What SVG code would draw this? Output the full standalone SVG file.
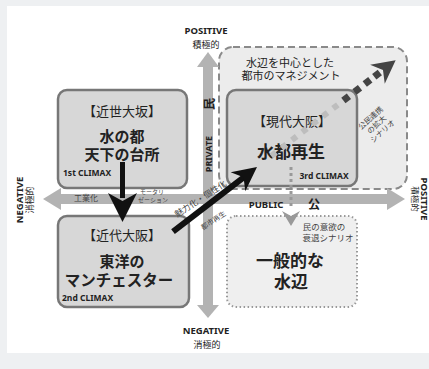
<svg xmlns="http://www.w3.org/2000/svg" width="429" height="369" viewBox="0 0 429 369">
<style>
text{font-family:"Noto Sans CJK JP","Noto Sans",sans-serif;fill:#222;text-anchor:middle;dominant-baseline:central}
.en{font-family:"Noto Sans","Open Sans",sans-serif;font-weight:bold}
.b{font-weight:bold}
.box{fill:#d7d7d7;stroke:#777;stroke-width:2.5}
.axis{fill:#b3b3b3}
.sm{fill:#444}
</style>
<rect x="0" y="0" width="429" height="369" fill="#eef0f2"/>
<rect x="7" y="6" width="422" height="347" fill="#ffffff"/>

<g id="outer-management">
<rect x="219" y="47" width="188" height="142" rx="14" fill="#ececec" stroke="#8a8a8a" stroke-width="2" stroke-dasharray="7 4"/>
<text x="290" y="62" font-size="11">水辺を中心とした</text>
<text x="291" y="75" font-size="11">都市のマネジメント</text>
</g>

<g id="box-general">
<rect x="227" y="216" width="130" height="91" rx="9" fill="#efefef" stroke="#999" stroke-width="2" stroke-dasharray="1.5 2.5"/>
<text x="324" y="226" font-size="8.5" class="sm">民の意欲の</text>
<text x="328" y="237" font-size="8.5" class="sm">衰退シナリオ</text>
<text x="290" y="259" font-size="17" class="b">一般的な</text>
<text x="291" y="280" font-size="17" class="b">水辺</text>
</g>

<g id="axes">
<rect x="203" y="66" width="10" height="240" class="axis"/>
<polygon points="197,67 208,52 219,67" class="axis"/>
<polygon points="197,305 208,318 219,305" class="axis"/>
<rect x="60" y="194" width="328" height="10" class="axis"/>
<polygon points="61,188 43,199 61,210" class="axis"/>
<polygon points="387,188 405,199 387,210" class="axis"/>
<text class="b" x="208" y="104" font-size="12" transform="rotate(-90 208 104)">民</text>
<text class="en" x="208" y="154" font-size="9" transform="rotate(-90 208 154)">PRIVATE</text>
<text class="en" x="266" y="204" font-size="9.5" fill="#333">PUBLIC</text>
<text class="b" x="314" y="203" font-size="12">公</text>
<text x="86" y="197" font-size="8" class="sm">工業化</text>
<text x="152" y="191" font-size="6" class="sm">モータリ</text>
<text x="153" y="199" font-size="6" class="sm">ゼーション</text>
<text class="en" x="206" y="30" font-size="9.5">POSITIVE</text>
<text x="206" y="44" font-size="9">積極的</text>
<text class="en" x="206" y="330" font-size="9.5">NEGATIVE</text>
<text x="207" y="344" font-size="9">消極的</text>
<g transform="translate(19 200) rotate(-90)">
<text class="en" x="0" y="0" font-size="9.5">NEGATIVE</text>
<text x="0" y="10" font-size="9">消極的</text>
</g>
<g transform="translate(424 199) rotate(90)">
<text class="en" x="0" y="0" font-size="9.5">POSITIVE</text>
<text x="0" y="8" font-size="8.5">積極的</text>
</g>
</g>

<g id="box-kinsei">
<rect x="58" y="90" width="129" height="98" rx="9" class="box"/>
<text x="122" y="110" font-size="13" fill="#333">【近世大坂】</text>
<text x="122" y="135" font-size="15" class="b">水の都</text>
<text x="122" y="153" font-size="15" class="b">天下の台所</text>
<text class="en" x="63" y="172" font-size="8.5" style="text-anchor:start">1st CLIMAX</text>
</g>

<g id="box-kindai">
<rect x="58" y="216" width="131" height="91" rx="9" class="box"/>
<text x="122" y="234" font-size="13" fill="#333">【近代大阪】</text>
<text x="122" y="260" font-size="15" class="b">東洋の</text>
<text x="119" y="279" font-size="15.5" class="b">マンチェスター</text>
<text class="en" x="62" y="297" font-size="8.5" style="text-anchor:start">2nd CLIMAX</text>
</g>

<g id="box-gendai">
<rect x="227" y="90" width="130" height="96" rx="9" class="box"/>
<text x="292" y="120" font-size="13" fill="#333">【現代大阪】</text>
<text x="291" y="150" font-size="17" class="b">水都再生</text>
<text class="en" x="324" y="175" font-size="8.5">3rd CLIMAX</text>
</g>

<g id="connectors">
<rect x="120" y="162" width="5" height="36" fill="#111"/>
<polygon points="108,193 122.5,201 137,193 122.5,222" fill="#111"/>
<g transform="translate(257 167) rotate(-37.6)">
<line x1="-106" y1="0" x2="-16" y2="0" stroke="#111" stroke-width="6"/>
<polygon points="0,0 -24,-12 -17,0 -24,12" fill="#111"/>
<g fill="#bdbdbd">
<rect x="18" y="-3" width="6" height="6"/>
<rect x="31" y="-3" width="6" height="6"/>
<rect x="44" y="-3" width="6" height="6"/>
<rect x="57" y="-3" width="6" height="6"/>
<rect x="70" y="-3" width="6" height="6"/>
<rect x="83" y="-3" width="6" height="6"/>
<rect x="96" y="-3" width="6" height="6"/>
</g>
<g fill="#444">
<rect x="109" y="-3.5" width="7" height="7"/>
<rect x="123" y="-3.5" width="7" height="7"/>
<rect x="136" y="-3.5" width="7" height="7"/>
<rect x="148" y="-3.5" width="7" height="7"/>
<polygon points="175,0 152,-12 159,0 152,12"/>
</g>
</g>
<g fill="#999">
<rect x="289.5" y="167" width="3" height="3"/>
<rect x="289.5" y="173" width="3" height="3"/>
<rect x="289.5" y="179" width="3" height="3"/>
<rect x="289.5" y="185" width="3" height="3"/>
<rect x="289.5" y="191" width="3" height="3"/>
<rect x="289.5" y="197" width="3" height="3"/>
<rect x="289.5" y="203" width="3" height="3"/>
<polygon points="282,211 291,216 300,211 291,226"/>
</g>
<text x="200" y="198" font-size="8.5" class="sm" transform="rotate(-33 200 198)">魅力化・個性化</text>
<text x="213" y="220" font-size="7" class="sm" transform="rotate(-33 213 220)">都市再生</text>
<g transform="translate(376 124) rotate(-42)">
<text x="0" y="-9" font-size="7.5" class="sm">公民連携</text>
<text x="0" y="0" font-size="7.5" class="sm">の拡大</text>
<text x="0" y="9" font-size="7.5" class="sm">シナリオ</text>
</g>
</g>
</svg>
